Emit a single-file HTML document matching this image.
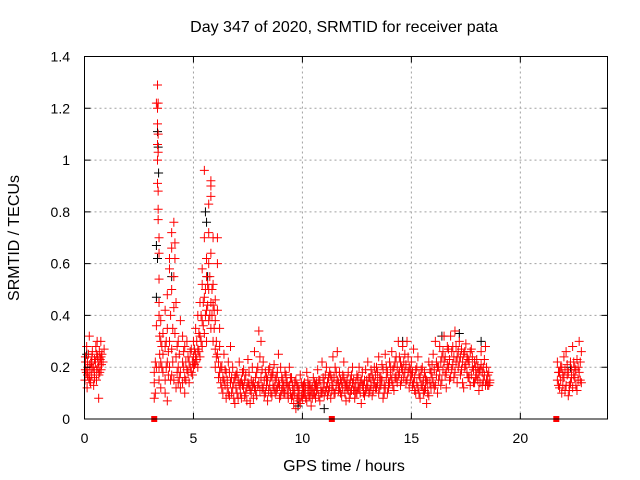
<!DOCTYPE html>
<html><head><meta charset="utf-8"><style>
html,body{margin:0;padding:0;background:#fff;}
svg{display:block;font-family:"Liberation Sans",sans-serif;}
</style></head><body>
<svg id="chart" width="640" height="480" viewBox="0 0 640 480">
<rect width="640" height="480" fill="#fff"/>
<g id="grid"></g>
<g id="marks"></g>
<rect x="84.5" y="56.5" width="523" height="362.5" fill="none" stroke="#000" stroke-width="1"/>
<g id="axes"></g>
<text x="344" y="32" text-anchor="middle" font-size="16">Day 347 of 2020, SRMTID for receiver pata</text>
<text x="344" y="471" text-anchor="middle" font-size="16">GPS time / hours</text>
<text transform="translate(19,238) rotate(-90)" text-anchor="middle" font-size="16">SRMTID / TECUs</text>
</svg>
<script>
const xTicks = [0, 5, 10, 15, 20];
const yTicks = [0, 0.2, 0.4, 0.6, 0.8, 1, 1.2, 1.4];
const yTickLabels = ["0", "0.2", "0.4", "0.6", "0.8", "1", "1.2", "1.4"];
const gapMarkers = [3.2, 11.35, 21.65];
const redGroups = [
[0.02,[.15]],[0.05,[.22]],[0.08,[.18]],[0.1,[.28]],[0.12,[.12]],[0.15,[.2]],[0.18,[.25]],[0.2,[.16]],[0.22,[.32]],[0.25,[.19]],[0.28,[.14]],[0.3,[.22]],[0.33,[.17]],[0.36,[.26]],[0.4,[.2]],[0.42,[.13]],[0.45,[.18]],[0.5,[.22]],[0.52,[.28]],[0.55,[.15]],[0.58,[.3]],[0.6,[.24]],[0.62,[.2]],[0.65,[.08]],[0.68,[.26]],[0.7,[.18]],[0.72,[.23]],[0.75,[.3]],[0.78,[.21]],[0.8,[.25]],[0.85,[.22]],[0.9,[.27]],
[3.2,[.18,.14,.08]],[3.25,[.22,.1]],[3.3,[1.22,.36,.2]],[3.35,[1.29,1.2,1.14,1.06,1.0,.91]],[3.38,[1.22,1.1,1.03,.88,.81,.77]],[3.42,[.7,.64,.54,.45,.4,.2,.15]],[3.5,[.38,.3,.22,.12]],[3.6,[.33,.25,.18]],[3.7,[.28,.42,.15,.1]],[3.8,[.22,.35,.48,.07]],[3.9,[.62,.58,.3,.2]],[4.0,[.72,.66,.5,.27,.17]],[4.1,[.76,.55,.43,.15]],[4.15,[.68,.62,.33]],[4.2,[.45,.24,.12]],[4.3,[.3,.2,.14]],[4.4,[.38,.18,.12]],[4.5,[.22,.32,.14]],[4.6,[.16,.28,.1]],[4.7,[.19,.3]],[4.8,[.22,.14]],[4.9,[.27,.18]],[5.0,[.2,.3,.24]],[5.1,[.25,.35,.22]],[5.2,[.27,.4,.2]],[5.3,[.32,.45,.24]],[5.4,[.52,.38,.28,.58]],[5.5,[.96,.7,.47,.33]],[5.6,[.62,.55,.42,.3]],[5.7,[.83,.72,.6,.5,.38]],[5.8,[.92,.9,.86,.64,.45,.35]],[5.9,[.7,.52,.44,.3]],[6.0,[.46,.38,.27,.2]],[6.1,[.7,.6,.42,.25]],[6.2,[.35,.28,.18]],
[6.3,[.2,.12]],[6.4,[.25,.15]],[6.5,[.18,.08]],[6.6,[.22,.1]],[6.7,[.14,.28]],[6.8,[.12,.2]],[6.9,[.16,.06]],[7.0,[.1,.18]],[7.1,[.13,.22]],[7.2,[.08,.15]],[7.3,[.12,.19]],[7.4,[.17,.1]],[7.5,[.14,.23]],[7.6,[.11,.06]],[7.7,[.2,.13]],[7.8,[.12,.26]],[7.9,[.18,.09]],[8.0,[.34,.14]],[8.1,[.3,.16]],[8.2,[.12,.22]],[8.3,[.1,.18]],[8.4,[.15,.07]],[8.5,[.13,.2]],[8.6,[.17,.09]],[8.7,[.21,.12]],[8.8,[.11,.16]],[8.9,[.14,.25]],[9.0,[.09,.2]],[9.1,[.12,.15]],[9.2,[.18,.1]],[9.3,[.1,.14]],[9.4,[.13,.2]],[9.5,[.08,.16]],[9.6,[.11,.06]],[9.7,[.15,.04]],[9.8,[.09,.12]],[9.9,[.06,.17]],
[10.0,[.12,.08]],[10.1,[.1,.14]],[10.2,[.07,.18]],[10.3,[.13,.09]],[10.4,[.11,.05]],[10.5,[.16,.1]],[10.6,[.08,.13]],[10.7,[.12,.19]],[10.8,[.15,.07]],[10.9,[.1,.22]],[11.0,[.14,.09]],[11.1,[.2,.12]],[11.2,[.11,.16]],[11.3,[.17,.08]],[11.4,[.13,.24]],[11.5,[.2,.1]],[11.6,[.15,.26]],[11.7,[.12,.18]],[11.8,[.09,.14]],[11.9,[.16,.22]],[12.0,[.13,.07]],[12.1,[.18,.11]],[12.2,[.1,.15]],[12.3,[.14,.2]],[12.4,[.08,.12]],[12.5,[.17,.1]],[12.6,[.12,.2]],[12.7,[.15,.06]],[12.8,[.1,.13]],[12.9,[.19,.11]],[13.0,[.13,.22]],[13.1,[.11,.16]],[13.2,[.17,.09]],[13.3,[.14,.2]],[13.4,[.2,.12]],[13.5,[.1,.24]],[13.6,[.16,.13]],[13.7,[.19,.08]],[13.8,[.12,.25]],[13.9,[.18,.1]],
[14.0,[.22,.14]],[14.1,[.15,.26]],[14.2,[.2,.11]],[14.3,[.24,.16]],[14.4,[.17,.3]],[14.5,[.22,.13]],[14.6,[.28,.19]],[14.7,[.18,.25]],[14.8,[.3,.15]],[14.9,[.2,.12]],[15.0,[.17,.22]],[15.1,[.14,.27]],[15.2,[.19,.1]],[15.3,[.12,.24]],[15.4,[.16,.08]],[15.5,[.2,.13]],[15.6,[.11,.18]],[15.7,[.15,.06]],[15.8,[.09,.22]],[15.9,[.18,.12]],[16.0,[.25,.14]],[16.1,[.13,.3]],[16.2,[.2,.1]],[16.3,[.28,.17]],[16.4,[.15,.24]],[16.5,[.22,.32]],[16.6,[.18,.12]],[16.7,[.27,.2]],[16.8,[.32,.16]],[16.9,[.21,.28]],[17.0,[.34,.18]],[17.1,[.24,.14]],[17.2,[.3,.22]],[17.3,[.19,.27]],[17.4,[.25,.12]],[17.5,[.21,.29]],[17.6,[.16,.23]],[17.7,[.26,.13]],[17.8,[.2,.24]],[17.9,[.14,.22]],[18.0,[.23,.17]],[18.1,[.18,.11]],[18.2,[.21,.26]],[18.3,[.15,.2]],[18.4,[.13,.28]],[18.5,[.17,.13]],[18.6,[.14,.15]],
[21.7,[.15,.22]],[21.8,[.12,.18]],[21.9,[.2,.1]],[22.0,[.16,.24]],[22.1,[.26,.13]],[22.2,[.18,.09]],[22.3,[.22,.14]],[22.4,[.12,.28]],[22.5,[.16,.2]],[22.6,[.23,.11]],[22.7,[.3,.18]],[22.8,[.26,.14]]
];
const redExtraGroups = [
[0.04,[.19,.24]],[0.14,[.17,.22]],[0.24,[.21,.15]],[0.34,[.2,.24]],[0.46,[.23,.16]],[0.56,[.19,.25]],[0.66,[.22,.17]],[0.76,[.19,.24]],
[3.45,[.25,.32]],[3.55,[.2,.28]],[3.75,[.2,.3]],[3.85,[.17,.26]],[3.95,[.15,.4]],[4.05,[.22,.35]],[4.25,[.18,.28]],[4.35,[.16,.25]],[4.55,[.2,.26]],[4.65,[.22,.15]],[4.75,[.24,.18]],[4.85,[.2,.26]],[4.95,[.22,.17]],[5.05,[.27,.21]],[5.15,[.23,.3]],[5.25,[.26,.33]],[5.35,[.3,.4]],[5.45,[.36,.45]],[5.55,[.5,.4]],[5.65,[.44,.52]],[5.75,[.4,.55]],[5.85,[.5,.4]],[5.95,[.42,.35]],[6.05,[.3,.24]],[6.15,[.22,.16]],[6.25,[.2,.14]],
[6.35,[.16,.1]],[6.45,[.13,.19]],[6.55,[.15,.12]],[6.65,[.18,.09]],[6.75,[.1,.16]],[6.85,[.14,.08]],[6.95,[.12,.17]],[7.05,[.15,.08]],[7.15,[.1,.14]],[7.25,[.13,.18]],[7.35,[.09,.15]],[7.45,[.12,.07]],[7.55,[.18,.13]],[7.65,[.1,.15]],[7.75,[.14,.08]],[7.85,[.16,.11]],[7.95,[.13,.2]],[8.05,[.24,.11]],[8.15,[.12,.19]],[8.25,[.15,.09]],[8.35,[.13,.16]],[8.45,[.11,.19]],[8.55,[.16,.1]],[8.65,[.13,.18]],[8.75,[.1,.15]],[8.85,[.18,.12]],[8.95,[.13,.08]],[9.05,[.16,.11]],[9.15,[.1,.13]],[9.25,[.14,.17]],[9.35,[.12,.08]],[9.45,[.16,.1]],[9.55,[.13,.09]],[9.65,[.1,.14]],[9.75,[.08,.13]],[9.85,[.11,.07]],[9.95,[.09,.14]],
[10.05,[.13,.1]],[10.15,[.08,.12]],[10.25,[.11,.15]],[10.35,[.09,.13]],[10.45,[.12,.08]],[10.55,[.1,.14]],[10.65,[.14,.11]],[10.75,[.09,.15]],[10.85,[.12,.1]],[10.95,[.16,.12]],[11.05,[.11,.17]],[11.15,[.14,.09]],[11.25,[.12,.18]],[11.35,[.15,.11]],[11.45,[.1,.16]],[11.55,[.13,.18]],[11.65,[.11,.14]],[11.75,[.15,.1]],[11.85,[.12,.17]],[11.95,[.1,.14]],[12.05,[.15,.12]],[12.15,[.13,.08]],[12.25,[.17,.11]],[12.35,[.11,.15]],[12.45,[.14,.1]],[12.55,[.12,.16]],[12.65,[.1,.14]],[12.75,[.13,.18]],[12.85,[.15,.09]],[12.95,[.12,.15]],[13.05,[.16,.1]],[13.15,[.13,.19]],[13.25,[.11,.15]],[13.35,[.17,.12]],[13.45,[.14,.18]],[13.55,[.12,.16]],[13.65,[.15,.21]],[13.75,[.13,.1]],[13.85,[.16,.2]],[13.95,[.14,.12]],
[14.05,[.17,.2]],[14.15,[.19,.13]],[14.25,[.16,.22]],[14.35,[.2,.14]],[14.45,[.18,.24]],[14.55,[.2,.15]],[14.65,[.16,.22]],[14.75,[.21,.14]],[14.85,[.18,.24]],[14.95,[.15,.19]],[15.05,[.13,.18]],[15.15,[.16,.11]],[15.25,[.14,.2]],[15.35,[.1,.17]],[15.45,[.13,.19]],[15.55,[.15,.1]],[15.65,[.12,.16]],[15.75,[.1,.14]],[15.85,[.14,.19]],[15.95,[.16,.21]],[16.05,[.19,.12]],[16.15,[.17,.22]],[16.25,[.2,.15]],[16.35,[.22,.13]],[16.45,[.19,.26]],[16.55,[.24,.17]],[16.65,[.21,.28]],[16.75,[.23,.15]],[16.85,[.26,.19]],[16.95,[.24,.16]],[17.05,[.22,.28]],[17.15,[.2,.26]],[17.25,[.24,.17]],[17.35,[.22,.14]],[17.45,[.2,.26]],[17.55,[.18,.24]],[17.65,[.22,.16]],[17.75,[.17,.27]],[17.85,[.19,.14]],[17.95,[.2,.16]],[18.05,[.15,.2]],[18.15,[.19,.14]],[18.25,[.13,.18]],[18.35,[.17,.23]],[18.45,[.2,.15]],[18.55,[.13,.18]],
[21.75,[.18,.13]],[21.85,[.15,.2]],[21.95,[.13,.17]],[22.05,[.11,.19]],[22.15,[.17,.21]],[22.25,[.13,.11]],[22.35,[.19,.16]],[22.45,[.17,.22]],[22.55,[.13,.19]],[22.65,[.2,.15]],[22.75,[.22,.15]]
];
const blackPoints = [[3.35,1.11],[3.38,1.05],[3.4,0.95],[3.3,0.67],[3.35,0.62],[3.3,0.47],[5.55,0.8],[5.6,0.76],[5.65,0.55],[0.1,0.25],[9.8,0.05],[14.6,0.3],[16.4,0.32],[17.2,0.33],[18.2,0.3],[22.3,0.2],[4.0,0.55],[11.0,0.04]];

const X0 = 84.5, X1 = 607.5, Y0 = 419, Y1 = 56.5, XMAX = 24, YMAX = 1.4;
const xs = h => X0 + (h / XMAX) * (X1 - X0);
const ys = v => Y0 - (v / YMAX) * (Y0 - Y1);
const NS = "http://www.w3.org/2000/svg";
const grid = document.getElementById('grid');
const axes = document.getElementById('axes');
const marks = document.getElementById('marks');
function mk(tag, attrs, parent) {
  const e = document.createElementNS(NS, tag);
  for (const k in attrs) e.setAttribute(k, attrs[k]);
  parent.appendChild(e);
  return e;
}
xTicks.forEach(t => {
  const x = xs(t);
  if (t > 0) {
    const g = mk('line', {x1: x, x2: x, y1: Y1, y2: Y0, stroke: '#a0a0a0', 'stroke-dasharray': '2,3'}, grid);
    
    
  }
  const tk = mk('path', {d: `M${x},${Y0}v-6M${x},${Y1}v6`, stroke: '#000'}, axes);
  
  
  const lb = mk('text', {x: x, y: 443, 'text-anchor': 'middle', 'font-size': 14}, axes);
  lb.textContent = String(t);
  
  
});
yTicks.forEach((t, i) => {
  const y = ys(t);
  if (t > 0 && t < YMAX) {
    const g = mk('line', {x1: X0, x2: X1, y1: y, y2: y, stroke: '#a0a0a0', 'stroke-dasharray': '2,3'}, grid);
    
    
  }
  const tk = mk('path', {d: `M${X0},${y}h6M${X1},${y}h-6`, stroke: '#000'}, axes);
  
  
  const lb = mk('text', {x: 70, y: y + 5, 'text-anchor': 'end', 'font-size': 14}, axes);
  lb.textContent = yTickLabels[i];
  
  
});
function plus(h, v, color) {
  const x = xs(h), y = ys(v);
  return mk('path', {d: `M${x-4.5},${y}h9M${x},${y-4.5}v9`, stroke: color, 'stroke-width': 1}, marks);
}
blackPoints.forEach(b => {
  const p = plus(b[0], b[1], '#000000');
  
  
});
redGroups.concat(redExtraGroups).forEach(g => {
  g[1].forEach(v => {
    const p = plus(g[0], v, '#ff0000');
    
    
  });
});
gapMarkers.forEach(h => {
  const r = mk('rect', {x: xs(h) - 3, y: Y0 - 3, width: 6, height: 6, fill: '#ff0000'}, marks);
  
  
});
</script>
</body></html>
